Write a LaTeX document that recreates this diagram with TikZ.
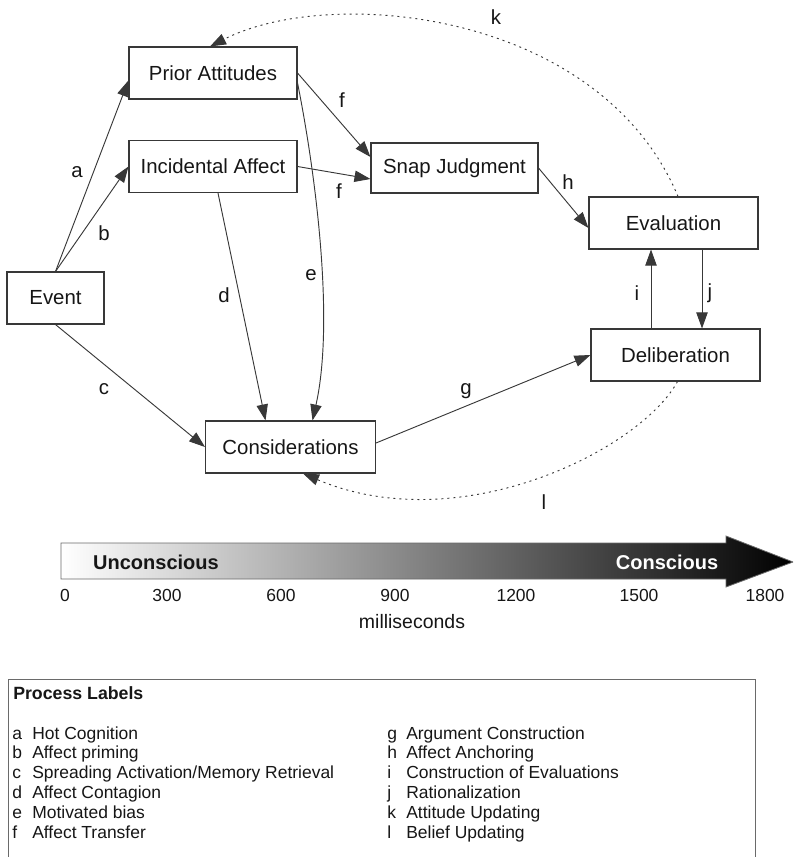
\documentclass[tikz,border=0pt]{standalone}
\usepackage{fontspec}
\setmainfont{Liberation Sans}
\usetikzlibrary{arrows.meta,calc}
\definecolor{ink}{HTML}{161616}
\definecolor{edge}{HTML}{383838}
\definecolor{frame}{HTML}{6A6A6A}

\begin{document}
\begin{tikzpicture}[
  x=.75pt,y=-.75pt,
  font=\fontsize{15.3}{18}\selectfont, text=ink,
  box/.style={draw=edge,line width=.8pt,minimum width=#1*.75pt,minimum height=39pt,inner sep=0pt},
  flow/.style={-{Triangle[length=12pt,width=8.5pt]},draw=edge,line width=.7pt},
  update/.style={flow,dash pattern=on 1.5pt off 3pt},
  lab/.style={inner sep=1pt},
  tick/.style={font=\fontsize{13.1}{15}\selectfont},
  legend/.style={font=\fontsize{13.1}{15}\selectfont,anchor=base west,inner sep=0pt},
  barlab/.style={font=\fontsize{15}{18}\selectfont\bfseries}
]
\clip (0,0) rectangle (793,857);

\node[box=168] (prior) at (213,73) {Prior Attitudes};
\node[box=168] (inc) at (213,166.5) {Incidental Affect};
\node[box=167,minimum height=37.5pt] (snap) at (454.5,168) {Snap Judgment};
\node[box=169] (eval) at (673.5,223) {Evaluation};
\node[box=169] (delib) at (675.5,355) {Deliberation};
\node[box=97] (event) at (55.5,298) {Event};
\node[box=170] (cons) at (290.5,447) {Considerations};

\draw[flow] (event.north) -- (prior.185);
\draw[flow] (event.north) -- (inc.west);
\draw[flow] (event.south) -- (cons.west);
\draw[flow] ($(inc.south)+(5,0)$) -- ($(cons.north)+(-25,0)$);
\draw[flow] ($(prior.east)+(0,10)$) .. controls (315,170) and (335,320) .. ($(cons.north)+(22,0)$);
\draw[flow] (prior.east) -- ($(snap.west)+(0,-11)$);
\draw[flow] (inc.east) -- ($(snap.west)+(0,11)$);
\draw[flow] ($(cons.east)+(0,-4)$) -- (delib.west);
\draw[flow] (snap.east) -- ($(eval.west)+(0,5)$);
\draw[flow] ($(delib.north)+(-24.5,0)$) -- ($(eval.south)+(-22.5,0)$);
\draw[flow] ($(eval.south)+(28.5,0)$) -- ($(delib.north)+(26.5,0)$);

% updating loops
\draw[update] ($(eval.north)+(4.5,0)$) .. controls (600,10) and (330,-15) .. ($(prior.north)+(-3,0)$);
\draw[update] ($(delib.south)+(2,0)$) .. controls (640,450) and (460,540) .. ($(cons.south)+(12.5,0)$);

\node[lab] (la) at (77,172) {a};
\node[lab] (lb) at (104,233) {b};
\node[lab] (lc) at (104,389) {c};
\node[lab] (ld) at (224,295) {d};
\node[lab] (le) at (311,275) {e};
\node[lab] (lf1) at (342,100) {f};
\node[lab] (lf2) at (339,191) {f};
\node[lab] (lg) at (466,391) {g};
\node[lab] (lh) at (568,182) {h};
\node[lab] (li) at (637,293) {i};
\node[lab] (lj) at (710,293) {j};
\node[lab] (lk) at (496,17) {k};
\node[lab] (ll) at (544,502) {l};

% time axis
\shade[left color=white,right color=black,draw=frame,line width=.6pt]
  (61,543) -- (726,543) -- (726,536) -- (793,562) -- (726,587) -- (726,579) -- (61,579) -- cycle;
\node[barlab] (uncon) at (156,562) {Unconscious};
\node[barlab,text=white] (consc) at (667,562) {Conscious};
\foreach \ms/\xp in {0/65,300/167,600/281,900/395,1200/516,1500/639,1800/765}
  \node[tick] (t\ms) at (\xp,595) {\ms};
\node[font=\fontsize{14.6}{17}\selectfont] (msec) at (412,622) {milliseconds};

% legend
\draw[frame,line width=.7pt] (8,679) rectangle (755,900);
\node[legend,font=\fontsize{13.3}{15}\selectfont\bfseries] (leghead) at (13,699) {Process Labels};
\foreach \ltr/\txt [count=\n from 0] in {a/Hot Cognition,b/Affect priming,c/{Spreading Activation/Memory Retrieval},d/Affect Contagion,e/Motivated bias,f/Affect Transfer}{
  \node[legend] (key\ltr) at (12,739+19.8*\n) {\ltr};
  \node[legend] (desc\ltr) at (32,739+19.8*\n) {\txt};
}
\foreach \ltr/\txt [count=\n from 0] in {g/Argument Construction,h/Affect Anchoring,i/Construction of Evaluations,j/Rationalization,k/Attitude Updating,l/Belief Updating}{
  \node[legend] (key\ltr) at (387,739+19.8*\n) {\ltr};
  \node[legend] (desc\ltr) at (406,739+19.8*\n) {\txt};
}
\end{tikzpicture}
\end{document}
